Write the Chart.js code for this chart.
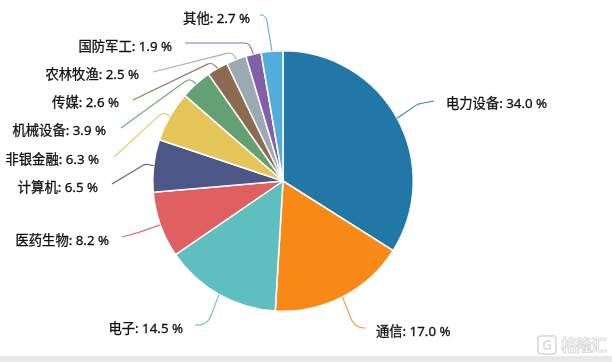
<!DOCTYPE html>
<html>
<head>
<meta charset="utf-8">
<style>
  html, body { margin: 0; padding: 0; background: #fff; overflow: hidden; }
  #wrap { position: relative; width: 612px; height: 362px; }
  #footer { position: absolute; left: 0; top: 356px; width: 612px; height: 6px; background: #e8e8e8; }
  #mark { position: absolute; left: 561px; top: 335px; font: bold 16px/18px "Noto Sans CJK SC"; letter-spacing: -1px;
          color: #fff; -webkit-text-stroke: 1px #dcdcdc; }
  #logo { position: absolute; left: 537px; top: 335px; width: 16px; height: 16px; border: 2px solid #e0e0e0; border-radius: 4px;
          font: bold 14px/16px "Noto Sans"; text-align: center; color: #e0e0e0; }
</style>
</head>
<body>
<div id="wrap">
  <canvas id="chart" width="612" height="362"></canvas>
  <div id="footer"></div>
  <div id="logo">G</div>
  <div id="mark">格隆汇</div>
</div>
<script src="https://cdn.jsdelivr.net/npm/chart.js@4"></script>
<script>
const categories = ['电力设备', '通信', '电子', '医药生物', '计算机', '非银金融', '机械设备', '传媒', '农林牧渔', '国防军工', '其他'];
const shares = [34.0, 17.0, 14.5, 8.2, 6.5, 6.3, 3.9, 2.6, 2.5, 1.9, 2.7];
const colors = ['#2177a5', '#f98917', '#5fbfbf', '#e05f60', '#4c5788', '#e5c558', '#63a073', '#8c6c50', '#9ca8b2', '#825fa9', '#53addc'];

// where each leader line bends and ends, and where its text sits
const leaderBends = [[418, 104], [355, 329], [207, 327], [140, 232], [145, 164], [163, 112], [190, 78], [212, 62], [232, 52], [249, 43], [266, 15]];
const leaderEnds = [[434, 101], [365, 328], [196, 325], [122, 237], [112, 184], [114, 157], [121, 128], [133, 100], [153, 72], [185, 43], [263, 15]];
const leaderRadius = [14, 14, 14, 10, 7, 7, 7, 7, 7, 7, 7];
const labelAnchors = [[446, 104], [376, 332], [183, 329], [109, 241], [98, 188], [99, 160], [106, 131], [119, 103], [139, 75], [172, 47], [250, 19]];
const textRight = [false, false, true, true, true, true, true, true, true, true, true];

// leader lines and text labels, same idea as echarts outside labels
const outsideLabels = {
  id: 'outsideLabels',
  afterDatasetsDraw(chart) {
    const ctx = chart.ctx;
    const arcs = chart.getDatasetMeta(0).data;
    ctx.save();
    arcs.forEach((arc, i) => {
      const mid = (arc.startAngle + arc.endAngle) / 2;
      const sx = arc.x + Math.cos(mid) * arc.outerRadius;
      const sy = arc.y + Math.sin(mid) * arc.outerRadius;
      ctx.beginPath();
      ctx.moveTo(sx, sy);
      ctx.arcTo(leaderBends[i][0], leaderBends[i][1], leaderEnds[i][0], leaderEnds[i][1], leaderRadius[i]);
      ctx.lineTo(leaderEnds[i][0], leaderEnds[i][1]);
      ctx.strokeStyle = colors[i];
      ctx.globalAlpha = 0.9;
      ctx.lineWidth = 1.2;
      ctx.stroke();

      ctx.globalAlpha = 1;
      ctx.fillStyle = '#111';
      ctx.strokeStyle = '#111';
      ctx.lineWidth = 0.3;
      ctx.font = '13.3px "Noto Sans", "Noto Sans CJK SC"';
      ctx.textBaseline = 'middle';
      ctx.textAlign = textRight[i] ? 'right' : 'left';
      const text = categories[i] + ': ' + shares[i].toFixed(1) + ' %';
      ctx.fillText(text, labelAnchors[i][0], labelAnchors[i][1]);
      ctx.strokeText(text, labelAnchors[i][0], labelAnchors[i][1]);
    });
    ctx.restore();
  }
};

new Chart(document.getElementById('chart').getContext('2d'), {
  type: 'pie',
  data: {
    labels: categories,
    datasets: [{
      data: shares,
      backgroundColor: colors,
      borderColor: '#fff',
      borderWidth: 1.5
    }]
  },
  options: {
    responsive: false,
    animation: false,
    layout: { padding: { left: 152, right: 198, top: 50, bottom: 50 } },
    plugins: { legend: { display: false }, tooltip: { enabled: false } }
  },
  plugins: [outsideLabels]
});
</script>
</body>
</html>
